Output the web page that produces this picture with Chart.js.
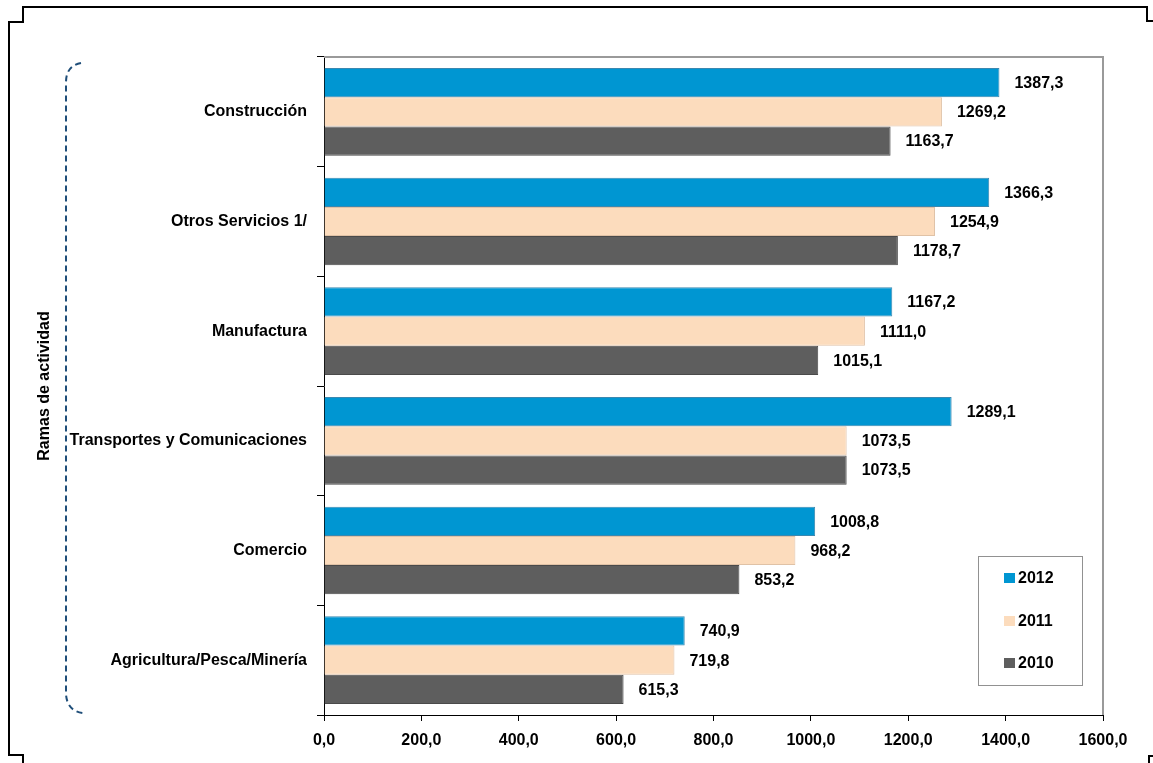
<!DOCTYPE html>
<html>
<head>
<meta charset="utf-8">
<script src="https://cdn.jsdelivr.net/npm/chart.js@4"></script>
<style>
  html, body { margin: 0; padding: 0; background: #fff; }
  #wrap { width: 1153px; height: 763px; }
</style>
</head>
<body>
<div id="wrap"><canvas id="ramasChart" width="1153" height="763"></canvas></div>
<script>
// DATA
const categories = [
  'Construcción',
  'Otros Servicios 1/',
  'Manufactura',
  'Transportes y Comunicaciones',
  'Comercio',
  'Agricultura/Pesca/Minería'
];
const years = ['2012', '2011', '2010'];
const values2012 = [1387.3, 1366.3, 1167.2, 1289.1, 1008.8, 740.9];
const values2011 = [1269.2, 1254.9, 1111.0, 1073.5, 968.2, 719.8];
const values2010 = [1163.7, 1178.7, 1015.1, 1073.5, 853.2, 615.3];
const xTicks = [0, 200, 400, 600, 800, 1000, 1200, 1400, 1600];

const FONT = 'Liberation Sans, Arial, sans-serif';

function coma(v){
  return v.toFixed(1).replace('.', ',');
}

// DECORATION: frame, bracket, plot border, value labels, legend
const decor = {
  id: 'decor',
  afterDraw(chart){
    const c = chart.ctx;
    const area = chart.chartArea;

    // outer frame (cropped)
    c.save();
    c.strokeStyle = '#000';
    c.lineWidth = 2;
    c.beginPath();
    c.moveTo(1153, 21); c.lineTo(1147, 21); c.lineTo(1147, 7);
    c.lineTo(23, 7); c.lineTo(23, 22); c.lineTo(9, 22);
    c.lineTo(9, 755); c.lineTo(23, 755); c.lineTo(23, 763);
    c.stroke();
    c.beginPath();
    c.moveTo(1149, 763); c.lineTo(1149, 756); c.lineTo(1153, 756);
    c.stroke();

    // dashed bracket
    c.strokeStyle = '#1f4e79';
    c.lineWidth = 2;
    c.setLineDash([6, 4]);
    c.beginPath();
    c.moveTo(81, 63);
    c.quadraticCurveTo(66, 66, 66, 82);
    c.lineTo(66, 694);
    c.quadraticCurveTo(67, 711, 83, 713);
    c.stroke();
    c.setLineDash([]);

    // plot border top and right
    c.strokeStyle = '#9a9a9a';
    c.lineWidth = 2;
    c.beginPath();
    c.moveTo(area.left, area.top);
    c.lineTo(area.right, area.top);
    c.lineTo(area.right, area.bottom);
    c.stroke();

    // value labels
    c.fillStyle = '#000';
    c.font = 'bold 16px ' + FONT;
    c.textAlign = 'left';
    c.textBaseline = 'middle';
    chart.data.datasets.forEach((ds, i) => {
      chart.getDatasetMeta(i).data.forEach((bar, j) => {
        c.fillText(coma(ds.data[j]), bar.x + 15, bar.y + 1);
      });
    });

    // legend
    c.strokeStyle = '#222';
    c.lineWidth = 1;
    c.setLineDash([1, 1]);
    c.strokeRect(978.5, 556.5, 104, 129);
    c.setLineDash([]);
    const ly = [578, 621, 663];
    chart.data.datasets.forEach((ds, i) => {
      c.fillStyle = ds.backgroundColor;
      c.fillRect(1004, ly[i] - 5, 11, 10);
      c.fillStyle = '#000';
      c.fillText(ds.label, 1018, ly[i] + 1);
    });
    c.restore();
  }
};

const ctx = document.getElementById('ramasChart');

const ramasChart = new Chart(ctx, {
  type: 'bar',
  data: {
    labels: categories,
    datasets: [
      { label: years[0], data: values2012, backgroundColor: '#0096d2', borderColor: '#3b88b0', borderWidth: 1 },
      { label: years[1], data: values2011, backgroundColor: '#fcdcbd', borderColor: '#e0c2a6', borderWidth: 1 },
      { label: years[2], data: values2010, backgroundColor: '#5e5e5e', borderColor: '#4a4a4a', borderWidth: 1 }
    ]
  },
  options: {
    indexAxis: 'y',
    responsive: false,
    animation: false,
    layout: { padding: { left: 31, right: 50, top: 57, bottom: 0 } },
    datasets: { bar: { categoryPercentage: 0.8, barPercentage: 1.0 } },
    plugins: {
      legend: { display: false },
      tooltip: { enabled: false }
    },
    scales: {
      x: {
        min: 0,
        max: 1600,
        afterBuildTicks(scale){
          scale.ticks = xTicks.map(v => ({ value: v }));
        },
        afterFit(scale){ scale.height = 48; },
        grid: { drawOnChartArea: false, drawTicks: true, tickLength: 6, color: '#000' },
        border: { color: '#000', width: 1 },
        ticks: {
          color: '#000',
          padding: 10,
          maxRotation: 0,
          font: { family: FONT, size: 16, weight: 'bold' },
          callback: v => coma(v)
        }
      },
      y: {
        afterFit(scale){ scale.width = 293; },
        grid: { drawOnChartArea: false, drawTicks: true, tickLength: 7, color: '#000', offset: true },
        border: { color: '#000', width: 1 },
        title: {
          display: true,
          text: 'Ramas de actividad',
          color: '#000',
          font: { family: FONT, size: 16, weight: 'bold' },
          padding: { top: 4, bottom: 0 }
        },
        ticks: {
          color: '#000',
          padding: 10,
          font: { family: FONT, size: 16, weight: 'bold' }
        }
      }
    }
  },
  plugins: [decor]
});
</script>
</body>
</html>
